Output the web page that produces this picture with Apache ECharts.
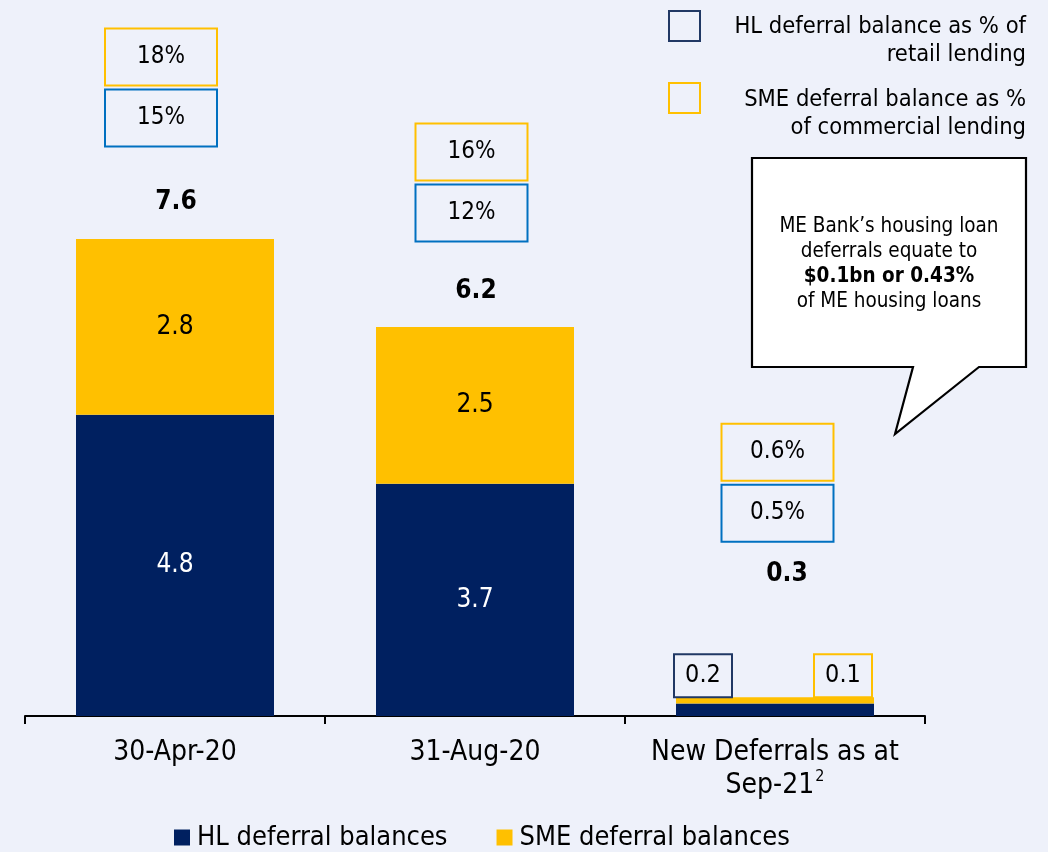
<!DOCTYPE html>
<html>
<head>
<meta charset="utf-8">
<script src="https://cdn.jsdelivr.net/npm/echarts@6/dist/echarts.min.js"></script>
<style>
  html, body { margin: 0; padding: 0; background: #eef1fa; }
  #chart { width: 1048px; height: 852px; }
</style>
</head>
<body>
<div id="chart"></div>
<script>
// ---- data ($bn) ----
const categories = ['30-Apr-20', '31-Aug-20', 'New Deferrals as at\nSep-21'];
const hlBalances = [4.8, 3.7, 0.2];
const smeBalances = [2.8, 2.5, 0.1];
const hlPctRetail = [15, 12, 0.5];       // HL deferral balance as % of retail lending
const smePctCommercial = [18, 16, 0.6];  // SME deferral balance as % of commercial lending

// ---- styling / layout ----
const FONT = '"DejaVu Sans Condensed", "DejaVu Sans", sans-serif';
const NAVY = '#002060';
const YELLOW = '#ffc000';
const BLUE_BOX = '#0070c0';
const NAVY_BOX = '#203864';
const BAR_RATIO = 0.66;
const SMALL_SEGMENT = 0.5;  // segments below this get an edge box instead of an inside label
// offsets (px) of annotations from the top-centre of each stack
const totalOffset = [[1, -37], [1, -36], [12, -123]];
const pctBoxOffset = [[-14, -121], [-3.5, -114], [2.5, -184]];
const PCT_BOX_W = 112, PCT_BOX_H = 57, PCT_BOX_STEP = 61;

const totals = hlBalances.map((v, i) => v + smeBalances[i]);

const chart = echarts.init(document.getElementById('chart'));

function boxWithText(cx, cy, w, h, color, text, fontSize) {
  return [
    { type: 'rect', shape: { x: cx - w / 2, y: cy - h / 2, width: w, height: h },
      style: { fill: 'none', stroke: color, lineWidth: 2 } },
    { type: 'text', style: { text: text, x: cx, y: cy, align: 'center', verticalAlign: 'middle',
      font: fontSize + 'px ' + FONT, fill: '#000' } }
  ];
}

function renderAnnotations(params, api) {
  const i = params.dataIndex;
  const top = api.coord([api.value(0), api.value(1)]);
  const band = api.size([1, 0])[0];
  const barW = band * BAR_RATIO;
  const children = [];

  // stack total
  children.push({ type: 'text', style: {
    text: totals[i].toFixed(1), x: top[0] + totalOffset[i][0], y: top[1] + totalOffset[i][1],
    align: 'center', verticalAlign: 'middle', font: 'bold 26px ' + FONT, fill: '#000' } });

  // percentage boxes: SME (yellow) above HL (blue)
  const bx = top[0] + pctBoxOffset[i][0];
  const by = top[1] + pctBoxOffset[i][1];
  children.push(...boxWithText(bx, by, PCT_BOX_W, PCT_BOX_H, BLUE_BOX, hlPctRetail[i] + '%', 24));
  children.push(...boxWithText(bx, by - PCT_BOX_STEP, PCT_BOX_W, PCT_BOX_H, YELLOW, smePctCommercial[i] + '%', 24));

  // thin segments: value boxes sitting on the stack edges
  const ew = 58, eh = 43;
  if (hlBalances[i] < SMALL_SEGMENT) {
    const cx = top[0] - barW / 2 - 2 + ew / 2;
    children.push(...boxWithText(cx, top[1] - eh / 2, ew, eh, NAVY_BOX, hlBalances[i].toFixed(1), 25));
  }
  if (smeBalances[i] < SMALL_SEGMENT) {
    const cx = top[0] + barW / 2 - 2 - ew / 2;
    children.push(...boxWithText(cx, top[1] - eh / 2, ew, eh, YELLOW, smeBalances[i].toFixed(1), 25));
  }
  return { type: 'group', children: children };
}

const insideLabel = (color) => ({
  show: true, position: 'inside', color: color, fontFamily: FONT, fontSize: 26,
  formatter: (p) => (p.value >= SMALL_SEGMENT ? p.value.toFixed(1) : '')
});

const option = {
  backgroundColor: '#eef1fa',
  animation: false,
  textStyle: { fontFamily: FONT },
  grid: { left: 25, right: 123, top: 214, bottom: 136 },
  xAxis: {
    type: 'category',
    data: categories,
    axisLine: { lineStyle: { color: '#000', width: 2 } },
    axisTick: { show: true, interval: 0, length: 8, lineStyle: { color: '#000', width: 2 } },
    axisLabel: {
      interval: 0, margin: 20, color: '#000', fontFamily: FONT, fontSize: 28, lineHeight: 33,
      formatter: (v) => {
        const lines = v.split('\n');
        if (lines.length > 1) {
          return '{a|' + lines[0] + '}\n{a|' + lines[1] + '}{sup|2}';
        }
        return '{a|' + v + '}';
      },
      rich: {
        a: { fontFamily: FONT, fontSize: 28, lineHeight: 33, color: '#000' },
        sup: { fontFamily: FONT, fontSize: 16, lineHeight: 33, verticalAlign: 'top', padding: [0, 0, 12, 1], color: '#000' }
      }
    }
  },
  yAxis: { type: 'value', min: 0, max: 8, show: false, splitLine: { show: false } },
  legend: {
    left: 174, top: 824, padding: 0, icon: 'rect', itemWidth: 16, itemHeight: 16, itemGap: 49,
    textStyle: { fontFamily: FONT, fontSize: 27, color: '#000', padding: [0, 0, 0, 2] },
    data: ['HL deferral balances', 'SME deferral balances']
  },
  series: [
    { name: 'HL deferral balances', type: 'bar', stack: 'bal', barWidth: (BAR_RATIO * 100) + '%',
      itemStyle: { color: NAVY }, label: insideLabel('#fff'), data: hlBalances },
    { name: 'SME deferral balances', type: 'bar', stack: 'bal',
      itemStyle: { color: YELLOW }, label: insideLabel('#000'), data: smeBalances },
    { name: 'annotations', type: 'custom', z: 5, silent: true,
      encode: { x: 0, y: 1 },
      data: totals.map((t, i) => [i, t]),
      renderItem: renderAnnotations }
  ],
  graphic: [
    // percentage legend (top right)
    { type: 'rect', shape: { x: 669, y: 11, width: 31, height: 30 },
      style: { fill: 'none', stroke: NAVY_BOX, lineWidth: 2 } },
    { type: 'text', style: { text: 'HL deferral balance as % of\nretail lending', x: 1026, y: 41,
      align: 'right', verticalAlign: 'middle', font: '23.5px ' + FONT, lineHeight: 28, fill: '#000' } },
    { type: 'rect', shape: { x: 669, y: 83, width: 31, height: 30 },
      style: { fill: 'none', stroke: YELLOW, lineWidth: 2 } },
    { type: 'text', style: { text: 'SME deferral balance as %\nof commercial lending', x: 1026, y: 114,
      align: 'right', verticalAlign: 'middle', font: '23.5px ' + FONT, lineHeight: 28, fill: '#000' } },
    // speech-bubble callout
    { type: 'polygon', z: 10,
      shape: { points: [[752, 158], [1026, 158], [1026, 367], [979, 367], [895, 434], [913, 367], [752, 367]] },
      style: { fill: '#fff', stroke: '#000', lineWidth: 2.2 } },
    { type: 'text', z: 11, style: {
      text: 'ME Bank\u2019s housing loan\ndeferrals equate to\n{b|$0.1bn or 0.43%}\nof ME housing loans',
      x: 889, y: 264, align: 'center', verticalAlign: 'middle',
      font: '20.5px ' + FONT, lineHeight: 25, fill: '#000',
      rich: { b: { fontWeight: 'bold', fontFamily: FONT, fontSize: 20.5, lineHeight: 25 } } } }
  ]
};

chart.setOption(option);
</script>
</body>
</html>
